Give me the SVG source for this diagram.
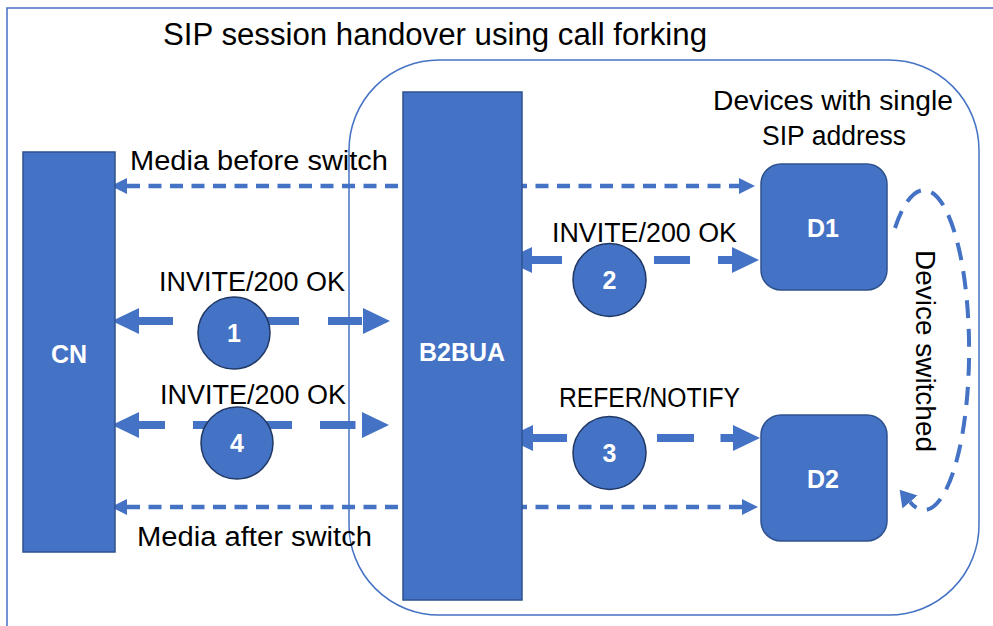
<svg xmlns="http://www.w3.org/2000/svg" width="993" height="626" viewBox="0 0 993 626">
  <style>
    .frame { fill: none; stroke: #4472C4; stroke-width: 1.5; }
    .box { fill: #4472C4; stroke: #2F528F; stroke-width: 1.5; }
    .step { fill: #4472C4; stroke: #203864; stroke-width: 1.5; }
    .label { font-family: "Liberation Sans", Arial, sans-serif; font-size: 27px; fill: #000; }
    .title { font-family: "Liberation Sans", Arial, sans-serif; font-size: 31px; fill: #000; }
    .inner { font-family: "Liberation Sans", Arial, sans-serif; font-size: 25px; font-weight: bold; fill: #fff; text-anchor: middle; }
    .sig { fill: none; stroke: #4472C4; stroke-width: 8; marker-start: url(#bigHead); marker-end: url(#bigHead); }
    .media { fill: none; stroke: #4472C4; stroke-width: 4.5; stroke-dasharray: 13 8.5; marker-start: url(#smallHead); marker-end: url(#smallHead); }
    .switch { fill: none; stroke: #4472C4; stroke-width: 4; stroke-dasharray: 18 11; marker-end: url(#curveHead); }
  </style>
  <defs>
    <marker id="bigHead" markerUnits="userSpaceOnUse" markerWidth="28" markerHeight="26" refX="0" refY="13" orient="auto-start-reverse">
      <path d="M0,0 L27,13 L0,26 z" fill="#4472C4"/>
    </marker>
    <marker id="smallHead" markerUnits="userSpaceOnUse" markerWidth="17" markerHeight="16" refX="0" refY="8" orient="auto-start-reverse">
      <path d="M0,0 L16,8 L0,16 z" fill="#4472C4"/>
    </marker>
    <marker id="curveHead" markerUnits="userSpaceOnUse" markerWidth="17" markerHeight="20" refX="0" refY="10" orient="auto">
      <path d="M0,0 L16,10 L0,20 z" fill="#4472C4"/>
    </marker>
  </defs>

  <!-- outer frame and title -->
  <rect class="frame" x="7" y="8" width="1000" height="700"/>
  <text class="title" x="163" y="45" textLength="544" lengthAdjust="spacingAndGlyphs">SIP session handover using call forking</text>

  <!-- domain of the single SIP address -->
  <g id="domain">
    <rect class="frame" x="349" y="60" width="630" height="555" rx="90" ry="90"/>
    <text class="label" x="713" y="110" textLength="240" lengthAdjust="spacingAndGlyphs">Devices with single</text>
    <text class="label" x="762" y="145" textLength="144" lengthAdjust="spacingAndGlyphs">SIP address</text>
  </g>

  <!-- connectors -->
  <g id="connectors">
    <line class="media" x1="127" y1="186" x2="739" y2="186"/>
    <line class="media" x1="127" y1="507" x2="742" y2="507"/>
    <line class="sig" x1="139" y1="321" x2="363" y2="321" stroke-dasharray="34 29"/>
    <line class="sig" x1="139" y1="425" x2="362" y2="425" stroke-dasharray="35.5 28" stroke-dashoffset="9.5"/>
    <line class="sig" x1="532" y1="260" x2="732" y2="260" stroke-dasharray="36 28" stroke-dashoffset="6"/>
    <line class="sig" x1="533" y1="438" x2="733" y2="438" stroke-dasharray="37 26.5" stroke-dashoffset="3"/>
    <path class="switch" d="M 895 228 A 45 160 0 1 1 910 502"/>
    <text class="label" x="916" y="250" transform="rotate(90 916 250)" textLength="202" lengthAdjust="spacingAndGlyphs">Device switched</text>
    <text class="label" x="130" y="170" textLength="258" lengthAdjust="spacingAndGlyphs">Media before switch</text>
    <text class="label" x="137" y="546" textLength="235" lengthAdjust="spacingAndGlyphs">Media after switch</text>
    <text class="label" x="159" y="291" textLength="186" lengthAdjust="spacingAndGlyphs">INVITE/200 OK</text>
    <text class="label" x="160" y="404" textLength="186" lengthAdjust="spacingAndGlyphs">INVITE/200 OK</text>
    <text class="label" x="552" y="242" textLength="185" lengthAdjust="spacingAndGlyphs">INVITE/200 OK</text>
    <text class="label" x="559" y="407" textLength="181" lengthAdjust="spacingAndGlyphs">REFER/NOTIFY</text>
  </g>

  <!-- endpoints -->
  <g id="cn">
    <rect class="box" x="23" y="152" width="92" height="400"/>
    <text class="inner" x="69" y="363">CN</text>
  </g>
  <g id="b2bua">
    <rect class="box" x="403" y="92" width="119" height="508"/>
    <text class="inner" x="462" y="361">B2BUA</text>
  </g>
  <g id="d1">
    <rect class="box" x="761" y="164" width="126" height="126" rx="20" ry="20"/>
    <text class="inner" x="823" y="237">D1</text>
  </g>
  <g id="d2">
    <rect class="box" x="761" y="415" width="126" height="126" rx="20" ry="20"/>
    <text class="inner" x="823" y="488">D2</text>
  </g>

  <!-- numbered steps -->
  <g id="step1">
    <circle class="step" cx="234" cy="333" r="36"/>
    <text class="inner" x="234" y="342">1</text>
  </g>
  <g id="step2">
    <circle class="step" cx="609.5" cy="280" r="36.5"/>
    <text class="inner" x="609.5" y="289">2</text>
  </g>
  <g id="step3">
    <circle class="step" cx="609.5" cy="453" r="36.5"/>
    <text class="inner" x="609.5" y="462">3</text>
  </g>
  <g id="step4">
    <circle class="step" cx="237" cy="443" r="36"/>
    <text class="inner" x="237" y="452">4</text>
  </g>
</svg>
